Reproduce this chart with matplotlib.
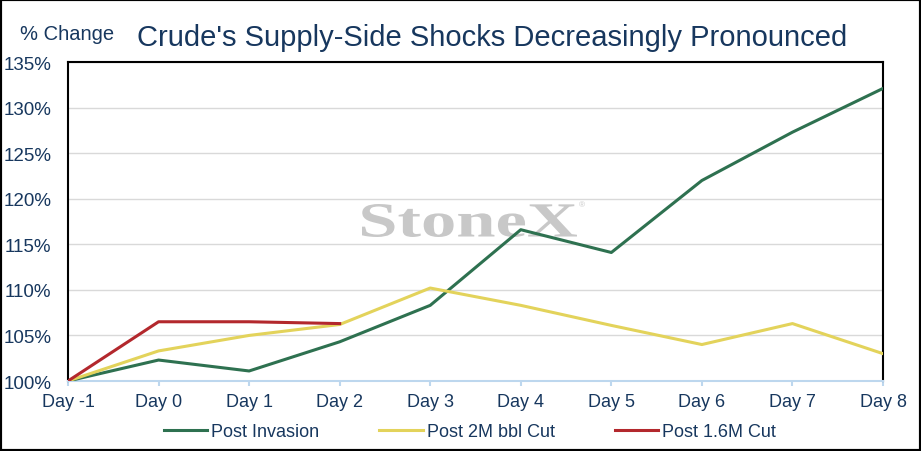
import matplotlib
matplotlib.use("Agg")
import matplotlib.pyplot as plt
from matplotlib.patches import Rectangle, PathPatch
from matplotlib.textpath import TextPath
from matplotlib.font_manager import FontProperties
from matplotlib.transforms import Affine2D, IdentityTransform
from matplotlib.ticker import FuncFormatter

# values (% of Day -1 level)
days = ["Day -1", "Day 0", "Day 1", "Day 2", "Day 3", "Day 4",
        "Day 5", "Day 6", "Day 7", "Day 8"]
post_invasion = [100.0, 102.3, 101.1, 104.3, 108.3, 116.6, 114.1, 122.0, 127.3, 132.1]
post_2m_cut = [100.0, 103.3, 105.0, 106.2, 110.2, 108.3, 106.1, 104.0, 106.3, 103.0]
post_16m_cut = [100.0, 106.5, 106.5, 106.3]

navy = "#17375E"
green = "#2E7150"
yellow = "#E3D35B"
red = "#B3282D"
axis_blue = "#BDD7EE"
W, H = 921, 452

plt.rcParams["font.family"] = ["Liberation Sans", "DejaVu Sans"]

fig = plt.figure(figsize=(W / 100, H / 100), dpi=100)
ax = fig.add_axes([68 / W, 1 - 382 / H, (883 - 68) / W, (382 - 63) / H])

x = list(range(len(days)))
ax.plot(x, post_invasion, color=green, lw=2.2, label="Post Invasion", zorder=3)
ax.plot(x, post_2m_cut, color=yellow, lw=2.2, label="Post 2M bbl Cut", zorder=3)
ax.plot(x[:len(post_16m_cut)], post_16m_cut, color=red, lw=2.2,
        label="Post 1.6M Cut", zorder=4)

ax.set_xlim(0, len(days) - 1)
ax.set_ylim(100, 135)
ax.set_yticks(range(100, 136, 5))
ax.yaxis.set_major_formatter(FuncFormatter(lambda v, p: f"{v:.0f}%"))
ax.set_xticks(x)
ax.set_xticklabels(days)
ax.grid(axis="y", color="#D9D9D9", lw=1.0)
ax.set_axisbelow(True)

ax.tick_params(axis="y", length=0, pad=12, labelsize=13.5, labelcolor=navy)
ax.tick_params(axis="x", length=3.8, width=1.5, color=axis_blue, pad=5,
               labelsize=13, labelcolor=navy)

for side in ("left", "top", "right"):
    ax.spines[side].set_color("black")
    ax.spines[side].set_linewidth(1.5)
ax.spines["bottom"].set_color(axis_blue)
ax.spines["bottom"].set_linewidth(1.5)

# StoneX watermark, stretched to the box it fills in the reference (pixels)
wm = TextPath((0, 0), "StoneX", size=40,
              prop=FontProperties(family="Liberation Serif", weight="bold"))
ext = wm.get_extents()
wx0, wx1, wy_top, wy_bot = 362, 577, 205, 238
sx = (wx1 - wx0) / ext.width
sy = (wy_bot - wy_top) / ext.height
tr = (Affine2D().translate(-ext.x0, -ext.y0).scale(sx, sy)
      .translate(wx0, H - wy_bot))
ax.add_patch(PathPatch(wm, transform=tr + IdentityTransform(), facecolor="#C8C8C8",
                       edgecolor="none", zorder=1))
fig.text(582 / W, 1 - 206 / H, "®", ha="center", va="center",
         fontsize=6, color="#C8C8C8")

fig.text(20 / W, 1 - 34 / H, "% Change", ha="left", va="center",
         fontsize=14.5, color=navy)
fig.text(492 / W, 1 - 38 / H, "Crude's Supply-Side Shocks Decreasingly Pronounced",
         ha="center", va="center", fontsize=21, color=navy)

leg = fig.legend(loc="center", bbox_to_anchor=(470 / W, 1 - 433 / H), ncol=3,
                 frameon=False, fontsize=13, handlelength=2.4, handletextpad=0.25,
                 columnspacing=3.3)
for t in leg.get_texts():
    t.set_color(navy)

fig.patches.append(Rectangle((0, 0), 1, 1, transform=fig.transFigure, fill=False,
                             edgecolor="black", lw=3, zorder=10))

fig.savefig("out.png", dpi=100)
